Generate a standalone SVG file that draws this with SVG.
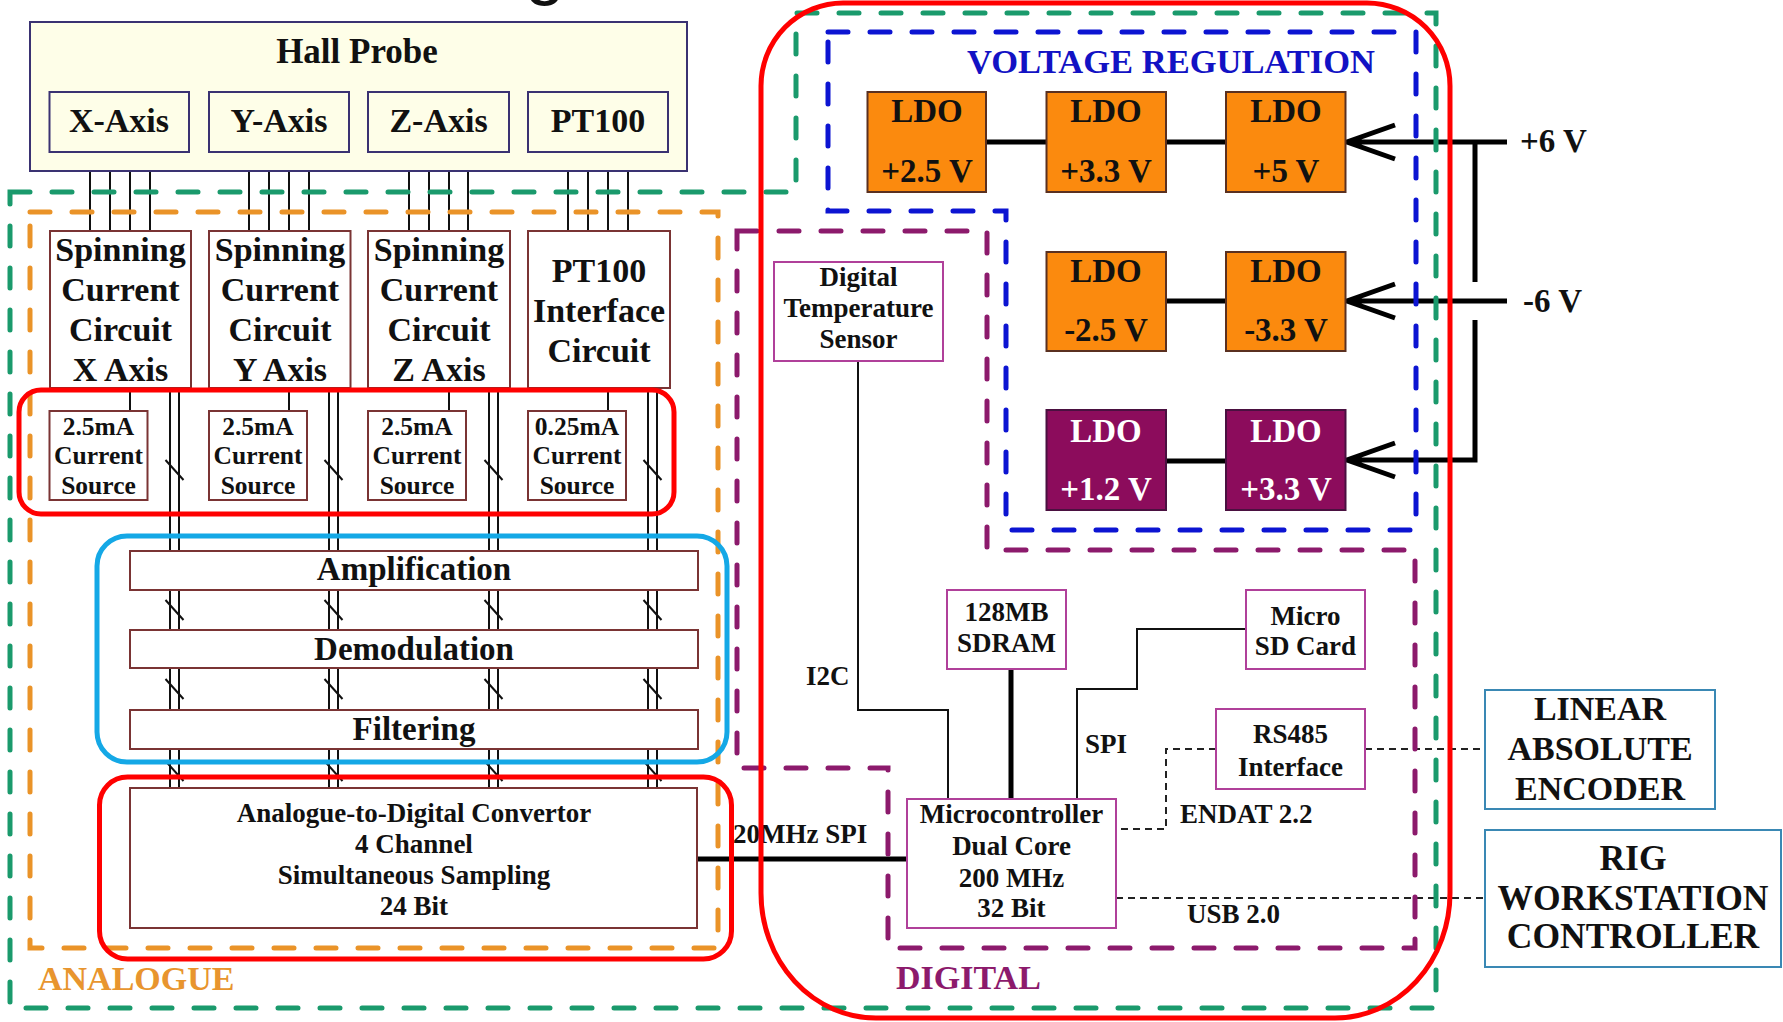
<svg xmlns="http://www.w3.org/2000/svg" width="1783" height="1022" viewBox="0 0 1783 1022">
<style>
text{font-family:"Liberation Serif","Times New Roman",serif;font-weight:bold;fill:#111}
.m{text-anchor:middle}
.f35{font-size:35px}.f34{font-size:34px}.f33{font-size:33px}.f27{font-size:27px}.f25{font-size:25.5px}
.hall{fill:#fefee8;stroke:#3a3272;stroke-width:2}
.blk{fill:#fff;stroke:#7a3434;stroke-width:2}
.dig{fill:#fff;stroke:#b0409a;stroke-width:2}
.ldo{fill:#fb8a0e;stroke:#5a3020;stroke-width:2}
.ldop{fill:#8c0c5c;stroke:#4a1040;stroke-width:2}
.wt{fill:#fff}
.ext{fill:#fff;stroke:#3a88b4;stroke-width:2}
.w{stroke:#111;stroke-width:2;fill:none}
.thick{stroke:#000;stroke-width:5;fill:none}
.dash{stroke:#222;stroke-width:2;stroke-dasharray:7 5;fill:none}
.reg{fill:none;stroke-width:5;stroke-dasharray:20 22;stroke-linecap:round}
.sol{fill:none;stroke-width:5}
</style>
<rect width="1783" height="1022" fill="#fff"/>
<text x="545" y="-9" class="m" style="font-family:'Liberation Sans',Arial,sans-serif;font-weight:normal;font-size:72px">g</text>

<g id="connectors">
  <path class="w" d="M90 152V231M110 152V231M130 152V231M150 152V231M249 152V231M269 152V231M289 152V231M309 152V231M409 152V231M429 152V231M449 152V231M468 152V231M568 152V231M588 152V231M608 152V231M628 152V231"/>
  <path class="w" d="M130 388V411M289 388V411M449 388V411M608 388V411"/>
  <path class="w" d="M170 388V788M179 388V788M329 388V788M338 388V788M489 388V788M498 388V788M648 388V788M657 388V788"/>
  <path class="w" d="M165.5 460l18 20M324.5 460l18 20M484.5 460l18 20M643.5 460l18 20M165.5 600l18 20M324.5 600l18 20M484.5 600l18 20M643.5 600l18 20M165.5 679l18 20M324.5 679l18 20M484.5 679l18 20M643.5 679l18 20M165.5 761l18 20M324.5 761l18 20M484.5 761l18 20M643.5 761l18 20"/>
  <path class="thick" d="M986 142H1046M1166 142H1226M1507 142H1345M1395 125L1347 142L1395 159M1475 142V282"/>
  <path class="thick" d="M1166 301H1226M1507 301H1345M1395 284L1347 301L1395 318"/>
  <path class="thick" d="M1475 320V460H1345M1395 443L1347 460L1395 477M1166 461H1226"/>
  <path class="w" d="M858 361V710H948V799"/>
  <path class="thick" d="M1011 669V799"/>
  <path class="w" d="M1246 629H1137V689H1077V799"/>
  <path class="dash" d="M1365 749H1485M1216 749H1166V829H1116"/>
  <path class="dash" d="M1116 898H1485"/>
  <path class="thick" d="M697 859H908"/>
  <text x="806" y="685" class="f27">I2C</text>
  <text x="1085" y="753" class="f27">SPI</text>
  <text x="733" y="843" class="f27">20MHz SPI</text>
  <text x="1180" y="823" class="f27">ENDAT 2.2</text>
  <text x="1187" y="923" class="f27">USB 2.0</text>
  <text x="1520" y="152" class="f33">+6 V</text>
  <text x="1523" y="312" class="f33">-6 V</text>
</g>

<g id="hall-probe">
  <rect class="hall" x="30" y="22" width="657" height="149"/>
  <text x="357" y="63" class="m f35">Hall Probe</text>
</g>
<g id="x-axis"><rect class="hall" x="49.5" y="92" width="139.5" height="60"/><text x="119" y="132" class="m f34">X-Axis</text></g>
<g id="y-axis"><rect class="hall" x="209" y="92" width="140" height="60"/><text x="279" y="132" class="m f34">Y-Axis</text></g>
<g id="z-axis"><rect class="hall" x="368" y="92" width="141" height="60"/><text x="438.5" y="132" class="m f34">Z-Axis</text></g>
<g id="pt100"><rect class="hall" x="528" y="92" width="140" height="60"/><text x="598" y="132" class="m f34">PT100</text></g>

<g id="spin-x"><rect class="blk" x="50" y="231" width="141" height="157"/>
  <text class="m f34" x="120.5" y="261">Spinning</text><text class="m f34" x="120.5" y="301">Current</text><text class="m f34" x="120.5" y="341">Circuit</text><text class="m f34" x="120.5" y="381">X Axis</text></g>
<g id="spin-y"><rect class="blk" x="209" y="231" width="141.5" height="157"/>
  <text class="m f34" x="280" y="261">Spinning</text><text class="m f34" x="280" y="301">Current</text><text class="m f34" x="280" y="341">Circuit</text><text class="m f34" x="280" y="381">Y Axis</text></g>
<g id="spin-z"><rect class="blk" x="368" y="231" width="142" height="157"/>
  <text class="m f34" x="439" y="261">Spinning</text><text class="m f34" x="439" y="301">Current</text><text class="m f34" x="439" y="341">Circuit</text><text class="m f34" x="439" y="381">Z Axis</text></g>
<g id="pt100-interface"><rect class="blk" x="528" y="231" width="142" height="157"/>
  <text class="m f34" x="599" y="282">PT100</text><text class="m f34" x="599" y="322">Interface</text><text class="m f34" x="599" y="362">Circuit</text></g>

<g id="cs-x"><rect class="blk" x="49.5" y="411" width="98" height="89"/>
  <text class="m f25" x="98.5" y="435">2.5mA</text><text class="m f25" x="98.5" y="464">Current</text><text class="m f25" x="98.5" y="494">Source</text></g>
<g id="cs-y"><rect class="blk" x="209" y="411" width="98" height="89"/>
  <text class="m f25" x="258" y="435">2.5mA</text><text class="m f25" x="258" y="464">Current</text><text class="m f25" x="258" y="494">Source</text></g>
<g id="cs-z"><rect class="blk" x="368" y="411" width="98" height="89"/>
  <text class="m f25" x="417" y="435">2.5mA</text><text class="m f25" x="417" y="464">Current</text><text class="m f25" x="417" y="494">Source</text></g>
<g id="cs-pt"><rect class="blk" x="528" y="411" width="98" height="89"/>
  <text class="m f25" x="577" y="435">0.25mA</text><text class="m f25" x="577" y="464">Current</text><text class="m f25" x="577" y="494">Source</text></g>

<g id="amplification"><rect class="blk" x="130" y="551" width="568" height="39"/><text class="m f33" x="414" y="580">Amplification</text></g>
<g id="demodulation"><rect class="blk" x="130" y="630" width="568" height="38"/><text class="m f33" x="414" y="660">Demodulation</text></g>
<g id="filtering"><rect class="blk" x="130" y="710" width="568" height="39"/><text class="m f33" x="414" y="740">Filtering</text></g>
<g id="adc"><rect class="blk" x="130" y="788" width="567" height="140"/>
  <text class="m f27" x="414" y="822">Analogue-to-Digital Convertor</text><text class="m f27" x="414" y="853">4 Channel</text><text class="m f27" x="414" y="884">Simultaneous Sampling</text><text class="m f27" x="414" y="915">24 Bit</text></g>

<g id="ldo-p25"><rect class="ldo" x="867.5" y="92" width="118.5" height="100"/><text class="m f33" x="927" y="122">LDO</text><text class="m f33" x="927" y="182">+2.5 V</text></g>
<g id="ldo-p33"><rect class="ldo" x="1046.5" y="92" width="119.5" height="100"/><text class="m f33" x="1106" y="122">LDO</text><text class="m f33" x="1106" y="182">+3.3 V</text></g>
<g id="ldo-p5"><rect class="ldo" x="1226" y="92" width="119.5" height="100"/><text class="m f33" x="1286" y="122">LDO</text><text class="m f33" x="1286" y="182">+5 V</text></g>
<g id="ldo-m25"><rect class="ldo" x="1046.5" y="252" width="119.5" height="99"/><text class="m f33" x="1106" y="282">LDO</text><text class="m f33" x="1106" y="341">-2.5 V</text></g>
<g id="ldo-m33"><rect class="ldo" x="1226" y="252" width="119.5" height="99"/><text class="m f33" x="1286" y="282">LDO</text><text class="m f33" x="1286" y="341">-3.3 V</text></g>
<g id="ldo-p12"><rect class="ldop" x="1046.5" y="410" width="119.5" height="100"/><text class="m f33 wt" x="1106" y="442">LDO</text><text class="m f33 wt" x="1106" y="500">+1.2 V</text></g>
<g id="ldo-p33d"><rect class="ldop" x="1226" y="410" width="119.5" height="100"/><text class="m f33 wt" x="1286" y="442">LDO</text><text class="m f33 wt" x="1286" y="500">+3.3 V</text></g>

<g id="temp-sensor"><rect class="dig" x="774" y="262" width="169" height="99"/>
  <text class="m f27" x="858.5" y="286">Digital</text><text class="m f27" x="858.5" y="317">Temperature</text><text class="m f27" x="858.5" y="348">Sensor</text></g>
<g id="sdram"><rect class="dig" x="947" y="590" width="119" height="79"/>
  <text class="m f27" x="1006.5" y="621">128MB</text><text class="m f27" x="1006.5" y="652">SDRAM</text></g>
<g id="microsd"><rect class="dig" x="1246" y="590" width="119" height="79"/>
  <text class="m f27" x="1305.5" y="625">Micro</text><text class="m f27" x="1305.5" y="655">SD Card</text></g>
<g id="rs485"><rect class="dig" x="1216" y="709" width="149" height="80"/>
  <text class="m f27" x="1290.5" y="743">RS485</text><text class="m f27" x="1290.5" y="776">Interface</text></g>
<g id="microcontroller"><rect class="dig" x="907" y="799" width="209" height="129"/>
  <text class="m f27" x="1011.5" y="823">Microcontroller</text><text class="m f27" x="1011.5" y="855">Dual Core</text><text class="m f27" x="1011.5" y="887">200 MHz</text><text class="m f27" x="1011.5" y="917">32 Bit</text></g>
<g id="encoder"><rect class="ext" x="1485" y="690" width="230" height="119"/>
  <text class="m f34" x="1600" y="720">LINEAR</text><text class="m f34" x="1600" y="760">ABSOLUTE</text><text class="m f34" x="1600" y="800">ENCODER</text></g>
<g id="rig"><rect class="ext" x="1485" y="830" width="296" height="137"/>
  <text class="m" style="font-size:35.5px" x="1633" y="870">RIG</text><text class="m" style="font-size:35.5px" x="1633" y="910">WORKSTATION</text><text class="m" style="font-size:35.5px" x="1633" y="948">CONTROLLER</text></g>

<g id="regions">
  <path class="reg" stroke="#1a9a6c" d="M10 192H796V13H1436V1008H10Z"/>
  <rect class="reg" stroke="#ea9328" x="30" y="212" width="688" height="736"/>
  <path class="reg" stroke="#0c14d2" d="M828 32H1416V530H1006V211H828Z"/>
  <path class="reg" stroke="#8c1a6c" d="M737 231H987V550H1415V948H888V768H737Z"/>
  <rect class="sol" stroke="#ff0000" x="19" y="390" width="655" height="124" rx="22"/>
  <rect class="sol" stroke="#14a8e6" x="97" y="536" width="630" height="226" rx="30"/>
  <rect class="sol" stroke="#ff0000" x="99.5" y="777" width="632" height="182" rx="28"/>
  <path class="sol" stroke="#ff0000" d="M843 3H1367A83 83 0 0 1 1450 86V893A115 125 0 0 1 1335 1018H876A115 125 0 0 1 761 893V86A82 83 0 0 1 843 3Z"/>
  <text x="38" y="990" class="f34" style="fill:#e8952e">ANALOGUE</text>
  <text x="896" y="989" class="f34" style="fill:#8c1a6c">DIGITAL</text>
  <text x="967" y="73" style="font-size:34.5px;fill:#1212c4">VOLTAGE REGULATION</text>
</g>
</svg>
